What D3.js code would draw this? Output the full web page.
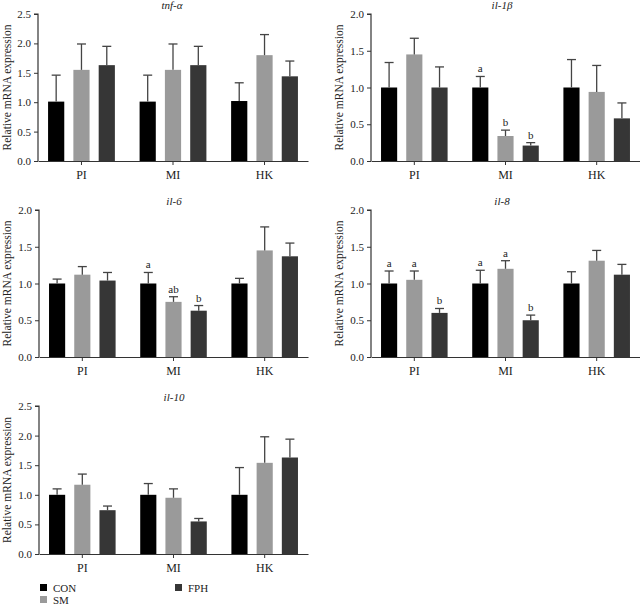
<!DOCTYPE html>
<html>
<head>
<meta charset="utf-8">
<script src="https://cdn.jsdelivr.net/npm/d3@7"></script>
<style>
  html, body { margin: 0; padding: 0; background: #fff; }
  svg { display: block; }
  text { font-family: "Liberation Serif", "DejaVu Serif", serif; fill: #222; }
</style>
</head>
<body>
<svg id="chart" width="640" height="606"></svg>
<script>
// ---- data ----
const tissues = ["PI", "MI", "HK"];
const groups = ["CON", "SM", "FPH"];
const genes = ["tnf-α", "il-1β", "il-6", "il-8", "il-10"];
const yMaxes = [2.5, 2.0, 2.0, 2.0, 2.5];

// means [tissue][group]
const tnfMean  = [[1.01, 1.55, 1.63], [1.01, 1.55, 1.63], [1.02, 1.80, 1.44]];
const tnfSD    = [[0.45, 0.44, 0.32], [0.45, 0.44, 0.32], [0.31, 0.35, 0.26]];
const il1bMean = [[1.00, 1.45, 1.00], [1.00, 0.34, 0.21], [1.00, 0.94, 0.58]];
const il1bSD   = [[0.34, 0.22, 0.28], [0.15, 0.08, 0.04], [0.38, 0.36, 0.21]];
const il6Mean  = [[1.00, 1.12, 1.04], [1.00, 0.75, 0.63], [1.00, 1.45, 1.37]];
const il6SD    = [[0.06, 0.11, 0.11], [0.15, 0.07, 0.07], [0.07, 0.32, 0.18]];
const il8Mean  = [[1.00, 1.05, 0.60], [1.00, 1.20, 0.50], [1.00, 1.31, 1.12]];
const il8SD    = [[0.17, 0.12, 0.06], [0.18, 0.11, 0.07], [0.16, 0.14, 0.14]];
const il10Mean = [[1.00, 1.17, 0.74], [1.00, 0.95, 0.55], [1.00, 1.54, 1.63]];
const il10SD   = [[0.10, 0.18, 0.07], [0.19, 0.15, 0.05], [0.46, 0.44, 0.31]];

const il1bLetters = [["", "", ""], ["a", "b", "b"], ["", "", ""]];
const il6Letters  = [["", "", ""], ["a", "ab", "b"], ["", "", ""]];
const il8Letters  = [["a", "a", "b"], ["a", "a", "b"], ["", "", ""]];
const noLetters   = [["", "", ""], ["", "", ""], ["", "", ""]];

const means = [tnfMean, il1bMean, il6Mean, il8Mean, il10Mean];
const sds = [tnfSD, il1bSD, il6SD, il8SD, il10SD];
const letters = [noLetters, il1bLetters, il6Letters, il8Letters, noLetters];

// ---- layout ----
const colors = { CON: "#000000", SM: "#9a9a9a", FPH: "#363636" };
const panels = [
  { x0: 38,  x1: 308, yTop: 14,  yBot: 161, labX: 7,   titleX: 172 },
  { x0: 371, x1: 640, yTop: 14,  yBot: 161, labX: 339, titleX: 502 },
  { x0: 39,  x1: 308, yTop: 210, yBot: 357, labX: 7,   titleX: 174 },
  { x0: 371, x1: 640, yTop: 210, yBot: 357, labX: 339, titleX: 502 },
  { x0: 39,  x1: 308, yTop: 406, yBot: 554, labX: 7,   titleX: 174 }
];

const svg = d3.select("#chart");
const axisColor = "#333";

panels.forEach((p, i) => {
  const g = svg.append("g");
  const x = d3.scaleBand().domain(tissues).range([p.x0, p.x1]).paddingInner(0.27).paddingOuter(0.11);
  const xs = d3.scaleBand().domain(groups).range([0, x.bandwidth()]).paddingInner(0.36).paddingOuter(0);
  const y = d3.scaleLinear().domain([0, yMaxes[i]]).range([p.yBot, p.yTop]);

  const rows = [];
  tissues.forEach((t, ti) => groups.forEach((gr, gi) => {
    rows.push({ t, gr, m: means[i][ti][gi], sd: sds[i][ti][gi], l: letters[i][ti][gi] });
  }));

  // bars
  g.selectAll("rect.bar").data(rows).join("rect")
    .attr("x", d => x(d.t) + xs(d.gr))
    .attr("y", d => y(d.m))
    .attr("width", xs.bandwidth())
    .attr("height", d => y(0) - y(d.m))
    .attr("fill", d => colors[d.gr]);

  // error bars (upper only)
  const capW = 9;
  const eb = g.selectAll("g.eb").data(rows).join("g");
  eb.append("line")
    .attr("x1", d => x(d.t) + xs(d.gr) + xs.bandwidth() / 2)
    .attr("x2", d => x(d.t) + xs(d.gr) + xs.bandwidth() / 2)
    .attr("y1", d => y(d.m))
    .attr("y2", d => y(d.m + d.sd))
    .attr("stroke", "#444").attr("stroke-width", 1.3);
  eb.append("line")
    .attr("x1", d => x(d.t) + xs(d.gr) + xs.bandwidth() / 2 - capW / 2)
    .attr("x2", d => x(d.t) + xs(d.gr) + xs.bandwidth() / 2 + capW / 2)
    .attr("y1", d => y(d.m + d.sd))
    .attr("y2", d => y(d.m + d.sd))
    .attr("stroke", "#444").attr("stroke-width", 1.3);

  // letters
  g.selectAll("text.let").data(rows.filter(d => d.l)).join("text")
    .attr("x", d => x(d.t) + xs(d.gr) + xs.bandwidth() / 2)
    .attr("y", d => y(d.m + d.sd) - 4)
    .attr("text-anchor", "middle")
    .attr("font-size", 11)
    .text(d => d.l);

  // y axis
  const yAxis = g.append("g").attr("transform", `translate(${p.x0},0)`)
    .call(d3.axisLeft(y).tickValues(d3.range(0, yMaxes[i] + 0.001, 0.5)).tickFormat(d3.format(".1f")).tickSize(4).tickPadding(3));
  yAxis.select(".domain").attr("d", `M-4,${p.yTop}H0V${p.yBot}`).attr("stroke", axisColor).attr("stroke-width", 1.2);
  yAxis.selectAll(".tick line").attr("stroke", axisColor);
  yAxis.selectAll(".tick text").attr("font-size", 11).attr("font-family", "Liberation Serif").attr("fill", "#222");

  // x axis
  const xAxis = g.append("g").attr("transform", `translate(0,${p.yBot})`)
    .call(d3.axisBottom(x).tickSize(4).tickPadding(5).tickSizeOuter(0));
  xAxis.select(".domain").attr("stroke", axisColor).attr("stroke-width", 1.2);
  xAxis.selectAll(".tick line").attr("stroke", axisColor);
  xAxis.selectAll(".tick text").attr("font-size", 12).attr("font-family", "Liberation Serif").attr("fill", "#222");

  // y label
  g.append("text")
    .attr("transform", `translate(${p.labX},${(p.yTop + p.yBot) / 2}) rotate(-90)`)
    .attr("text-anchor", "middle")
    .attr("dominant-baseline", "central")
    .attr("font-size", 11.5)
    .text("Relative mRNA expression");

  // title
  g.append("text")
    .attr("x", p.titleX)
    .attr("y", p.yTop - 9)
    .attr("text-anchor", "middle")
    .attr("dominant-baseline", "central")
    .attr("font-size", 11)
    .attr("font-style", "italic")
    .text(genes[i]);
});

// legend
const legendItems = [
  { name: "CON", x: 40, y: 584 },
  { name: "SM", x: 40, y: 596 },
  { name: "FPH", x: 175, y: 584 }
];
const lg = svg.append("g");
lg.selectAll("rect").data(legendItems).join("rect")
  .attr("x", d => d.x).attr("y", d => d.y)
  .attr("width", 7).attr("height", 7)
  .attr("fill", d => colors[d.name]);
lg.selectAll("text").data(legendItems).join("text")
  .attr("x", d => d.x + 13).attr("y", d => d.y + 4)
  .attr("dominant-baseline", "central")
  .attr("font-size", 11)
  .text(d => d.name);
</script>
</body>
</html>
